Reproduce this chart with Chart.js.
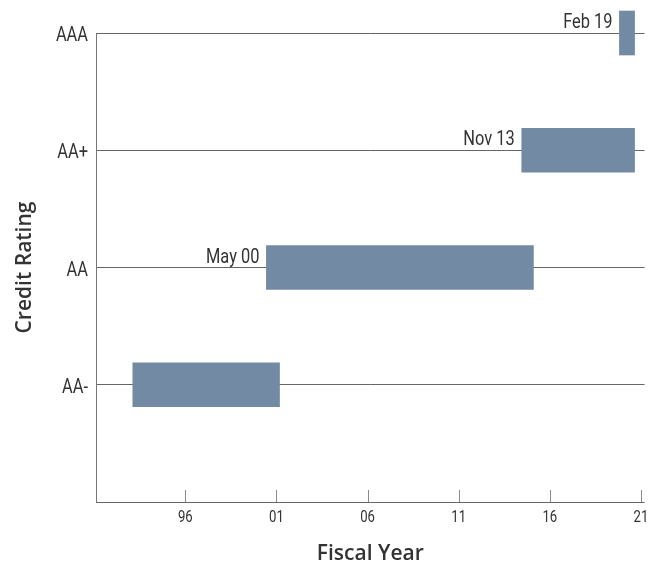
<!DOCTYPE html>
<html>
<head>
<meta charset="utf-8">
<script src="https://cdn.jsdelivr.net/npm/chart.js@4/dist/chart.umd.min.js"></script>
<style>
html,body{margin:0;padding:0;background:#fff;}
canvas{display:block;}
</style>
</head>
<body>
<canvas id="c" width="656" height="567"></canvas>
<script>
// ---- data ----
const ratings = ['AAA', 'AA+', 'AA', 'AA-', ''];
const periodStart = [2019.82, 2014.46, 2000.45, 1993.12, null];
const periodEnd = [2020.65, 2020.65, 2015.1, 2001.17, null];
const periodLabels = ['Feb 19', 'Nov 13', 'May 00', '', ''];
const xTickValues = [1996, 2001, 2006, 2011, 2016, 2021];
const xTickLabels = ['96', '01', '06', '11', '16', '21'];
const xMin = 1991.1;
const xMax = 2021.2;

const narrow = "Roboto, sans-serif";
const textColor = '#333333';
const condense = 0.82;

const barData = ratings.map((r, i) => periodStart[i] == null ? null : [periodStart[i], periodEnd[i]]);

// draw Roboto text horizontally condensed (stand-in for a condensed face)
const condensedText = {
  id: 'condensedText',
  beforeInit(chart) {
    const ctx = chart.ctx;
    const orig = ctx.fillText;
    ctx.fillText = function (text, x, y, maxWidth) {
      if (this.font.indexOf('Roboto') >= 0) {
        this.save();
        this.translate(x, y);
        this.scale(condense, 1);
        orig.call(this, text, 0, 0);
        this.restore();
      } else if (maxWidth !== undefined) {
        orig.call(this, text, x, y, maxWidth);
      } else {
        orig.call(this, text, x, y);
      }
    };
  }
};

const extras = {
  id: 'extras',
  afterDatasetsDraw(chart) {
    const ctx = chart.ctx;
    const x = chart.scales.x;
    const area = chart.chartArea;
    ctx.save();
    // inward tick marks on bottom axis
    ctx.strokeStyle = '#8a8a8a';
    ctx.lineWidth = 1;
    xTickValues.forEach(v => {
      const px = Math.round(x.getPixelForValue(v)) + 0.5;
      ctx.beginPath();
      ctx.moveTo(px, area.bottom);
      ctx.lineTo(px, area.bottom - 12);
      ctx.stroke();
    });
    // period start labels
    ctx.fillStyle = textColor;
    ctx.font = '20px ' + narrow;
    ctx.textAlign = 'right';
    ctx.textBaseline = 'alphabetic';
    const meta = chart.getDatasetMeta(0);
    meta.data.forEach((el, i) => {
      const t = periodLabels[i];
      if (!t) return;
      const left = Math.min(el.x, el.base);
      const lineY = chart.scales.y.getPixelForValue(i);
      ctx.fillText(t, left - 7, lineY - 5);
    });
    ctx.restore();
  }
};

new Chart(document.getElementById('c'), {
  type: 'bar',
  data: {
    labels: ratings,
    datasets: [{
      data: barData,
      backgroundColor: '#738aa5',
      borderWidth: 0,
      barThickness: 44,
      clip: false
    }]
  },
  options: {
    indexAxis: 'y',
    responsive: false,
    animation: false,
    devicePixelRatio: 1,
    layout: { padding: { top: 33, right: 10, left: 0, bottom: 0 } },
    plugins: { legend: { display: false }, tooltip: { enabled: false } },
    scales: {
      x: {
        type: 'linear',
        min: xMin,
        max: xMax,
        afterBuildTicks(scale) { scale.ticks = xTickValues.map(v => ({ value: v })); },
        afterFit(scale) { scale.height = 65; },
        grid: { display: false, drawTicks: false },
        border: { display: false },
        ticks: {
          padding: 6,
          autoSkip: false,
          maxRotation: 0,
          color: textColor,
          font: { family: narrow, size: 16 },
          callback(v) { const i = xTickValues.indexOf(v); return i >= 0 ? xTickLabels[i] : ''; }
        },
        title: {
          display: true,
          text: 'Fiscal Year',
          color: textColor,
          font: { family: "'Open Sans', sans-serif", size: 21, weight: '600' },
          padding: { top: 0, bottom: 0 }
        }
      },
      y: {
        type: 'category',
        offset: false,
        afterFit(scale) { scale.width = 96; },
        grid: { color: '#666666', lineWidth: 1, drawTicks: false, offset: false },
        border: { display: true, color: '#777777', width: 1 },
        ticks: {
          padding: 8,
          labelOffset: 3,
          color: textColor,
          font: { family: narrow, size: 20 }
        },
        title: {
          display: true,
          text: 'Credit Rating',
          color: textColor,
          font: { family: "'Open Sans', sans-serif", size: 21, weight: '600' },
          padding: { top: 12, bottom: 0 }
        }
      }
    }
  },
  plugins: [condensedText, extras]
});
</script>
</body>
</html>
